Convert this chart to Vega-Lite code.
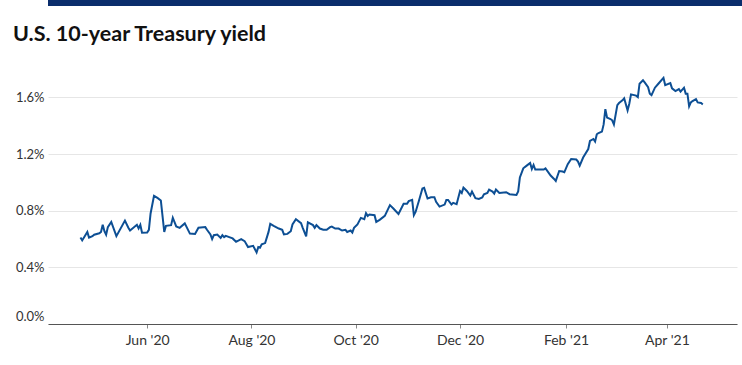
{
  "$schema": "https://vega.github.io/schema/vega-lite/v6.json",
  "padding": 0,
  "background": "white",
  "spacing": 18,
  "columns": 1,
  "align": "none",
  "config": {"view": {"stroke": null}, "font": "Lato"},
  "concat": [
    {
      "width": 742,
      "height": 6,
      "data": {"values": [{"k": 1}]},
      "mark": {"type": "rect", "color": "#0b2d6c"},
      "encoding": {}
    },
    {
      "width": 689,
      "height": 255,
      "title": {"text": "U.S. 10-year Treasury yield", "anchor": "start", "frame": "bounds", "dx": 13, "fontSize": 21.5, "font": "Lato", "fontWeight": "bold", "color": "#111111", "offset": 23.5},
      "data": {"values": [
        {"date": "2020-04-23", "yield": 0.61}, {"date": "2020-04-24", "yield": 0.59}, {"date": "2020-04-27", "yield": 0.65}, {"date": "2020-04-28", "yield": 0.61},
        {"date": "2020-04-30", "yield": 0.62}, {"date": "2020-05-01", "yield": 0.63}, {"date": "2020-05-04", "yield": 0.64}, {"date": "2020-05-05", "yield": 0.65},
        {"date": "2020-05-06", "yield": 0.70}, {"date": "2020-05-07", "yield": 0.655}, {"date": "2020-05-08", "yield": 0.63}, {"date": "2020-05-09", "yield": 0.684},
        {"date": "2020-05-11", "yield": 0.72}, {"date": "2020-05-14", "yield": 0.62}, {"date": "2020-05-19", "yield": 0.73}, {"date": "2020-05-21", "yield": 0.68},
        {"date": "2020-05-22", "yield": 0.66}, {"date": "2020-05-26", "yield": 0.70}, {"date": "2020-05-27", "yield": 0.675}, {"date": "2020-05-28", "yield": 0.70},
        {"date": "2020-05-29", "yield": 0.645}, {"date": "2020-06-01", "yield": 0.646}, {"date": "2020-06-02", "yield": 0.665}, {"date": "2020-06-03", "yield": 0.78},
        {"date": "2020-06-05", "yield": 0.905}, {"date": "2020-06-07", "yield": 0.89}, {"date": "2020-06-09", "yield": 0.872}, {"date": "2020-06-11", "yield": 0.65},
        {"date": "2020-06-12", "yield": 0.693}, {"date": "2020-06-15", "yield": 0.698}, {"date": "2020-06-16", "yield": 0.75}, {"date": "2020-06-18", "yield": 0.689},
        {"date": "2020-06-20", "yield": 0.679}, {"date": "2020-06-23", "yield": 0.71}, {"date": "2020-06-26", "yield": 0.638}, {"date": "2020-06-29", "yield": 0.636},
        {"date": "2020-07-01", "yield": 0.68}, {"date": "2020-07-05", "yield": 0.684}, {"date": "2020-07-06", "yield": 0.665}, {"date": "2020-07-08", "yield": 0.632},
        {"date": "2020-07-09", "yield": 0.60}, {"date": "2020-07-10", "yield": 0.627}, {"date": "2020-07-12", "yield": 0.632}, {"date": "2020-07-14", "yield": 0.608},
        {"date": "2020-07-15", "yield": 0.627}, {"date": "2020-07-16", "yield": 0.613}, {"date": "2020-07-17", "yield": 0.622}, {"date": "2020-07-19", "yield": 0.613},
        {"date": "2020-07-21", "yield": 0.604}, {"date": "2020-07-23", "yield": 0.58}, {"date": "2020-07-26", "yield": 0.599}, {"date": "2020-07-28", "yield": 0.585},
        {"date": "2020-07-30", "yield": 0.543}, {"date": "2020-08-02", "yield": 0.552}, {"date": "2020-08-04", "yield": 0.505}, {"date": "2020-08-05", "yield": 0.543},
        {"date": "2020-08-06", "yield": 0.538}, {"date": "2020-08-07", "yield": 0.562}, {"date": "2020-08-09", "yield": 0.571}, {"date": "2020-08-11", "yield": 0.65},
        {"date": "2020-08-12", "yield": 0.707}, {"date": "2020-08-14", "yield": 0.693}, {"date": "2020-08-17", "yield": 0.674}, {"date": "2020-08-19", "yield": 0.665},
        {"date": "2020-08-20", "yield": 0.632}, {"date": "2020-08-22", "yield": 0.636}, {"date": "2020-08-24", "yield": 0.655}, {"date": "2020-08-25", "yield": 0.703},
        {"date": "2020-08-27", "yield": 0.74}, {"date": "2020-08-30", "yield": 0.712}, {"date": "2020-08-31", "yield": 0.679}, {"date": "2020-09-02", "yield": 0.618},
        {"date": "2020-09-03", "yield": 0.717}, {"date": "2020-09-06", "yield": 0.698}, {"date": "2020-09-07", "yield": 0.679}, {"date": "2020-09-08", "yield": 0.698},
        {"date": "2020-09-10", "yield": 0.674}, {"date": "2020-09-12", "yield": 0.665}, {"date": "2020-09-14", "yield": 0.665}, {"date": "2020-09-16", "yield": 0.684},
        {"date": "2020-09-17", "yield": 0.688}, {"date": "2020-09-19", "yield": 0.674}, {"date": "2020-09-21", "yield": 0.674}, {"date": "2020-09-23", "yield": 0.66},
        {"date": "2020-09-25", "yield": 0.665}, {"date": "2020-09-26", "yield": 0.65}, {"date": "2020-09-28", "yield": 0.66}, {"date": "2020-09-29", "yield": 0.646},
        {"date": "2020-09-30", "yield": 0.679}, {"date": "2020-10-02", "yield": 0.703}, {"date": "2020-10-04", "yield": 0.749}, {"date": "2020-10-06", "yield": 0.74},
        {"date": "2020-10-07", "yield": 0.782}, {"date": "2020-10-08", "yield": 0.763}, {"date": "2020-10-09", "yield": 0.773}, {"date": "2020-10-12", "yield": 0.768},
        {"date": "2020-10-13", "yield": 0.721}, {"date": "2020-10-15", "yield": 0.735}, {"date": "2020-10-18", "yield": 0.763}, {"date": "2020-10-21", "yield": 0.839},
        {"date": "2020-10-23", "yield": 0.815}, {"date": "2020-10-26", "yield": 0.777}, {"date": "2020-10-29", "yield": 0.848}, {"date": "2020-10-31", "yield": 0.848},
        {"date": "2020-11-01", "yield": 0.867}, {"date": "2020-11-03", "yield": 0.876}, {"date": "2020-11-04", "yield": 0.768}, {"date": "2020-11-05", "yield": 0.791},
        {"date": "2020-11-07", "yield": 0.872}, {"date": "2020-11-09", "yield": 0.956}, {"date": "2020-11-10", "yield": 0.961}, {"date": "2020-11-12", "yield": 0.886},
        {"date": "2020-11-14", "yield": 0.895}, {"date": "2020-11-16", "yield": 0.895}, {"date": "2020-11-17", "yield": 0.862}, {"date": "2020-11-19", "yield": 0.829},
        {"date": "2020-11-22", "yield": 0.843}, {"date": "2020-11-23", "yield": 0.876}, {"date": "2020-11-24", "yield": 0.876}, {"date": "2020-11-26", "yield": 0.843},
        {"date": "2020-11-27", "yield": 0.855}, {"date": "2020-11-29", "yield": 0.846}, {"date": "2020-12-01", "yield": 0.939}, {"date": "2020-12-02", "yield": 0.925},
        {"date": "2020-12-03", "yield": 0.963}, {"date": "2020-12-05", "yield": 0.939}, {"date": "2020-12-07", "yield": 0.907}, {"date": "2020-12-08", "yield": 0.935},
        {"date": "2020-12-10", "yield": 0.888}, {"date": "2020-12-12", "yield": 0.883}, {"date": "2020-12-14", "yield": 0.893}, {"date": "2020-12-15", "yield": 0.916},
        {"date": "2020-12-17", "yield": 0.925}, {"date": "2020-12-18", "yield": 0.949}, {"date": "2020-12-20", "yield": 0.935}, {"date": "2020-12-21", "yield": 0.921},
        {"date": "2020-12-22", "yield": 0.949}, {"date": "2020-12-24", "yield": 0.925}, {"date": "2020-12-28", "yield": 0.93}, {"date": "2020-12-30", "yield": 0.916},
        {"date": "2021-01-03", "yield": 0.911}, {"date": "2021-01-04", "yield": 0.935}, {"date": "2021-01-05", "yield": 1.034}, {"date": "2021-01-07", "yield": 1.099},
        {"date": "2021-01-09", "yield": 1.118}, {"date": "2021-01-11", "yield": 1.137}, {"date": "2021-01-12", "yield": 1.094}, {"date": "2021-01-13", "yield": 1.123},
        {"date": "2021-01-14", "yield": 1.09}, {"date": "2021-01-19", "yield": 1.09}, {"date": "2021-01-20", "yield": 1.099}, {"date": "2021-01-23", "yield": 1.048},
        {"date": "2021-01-25", "yield": 1.024}, {"date": "2021-01-26", "yield": 1.01}, {"date": "2021-01-28", "yield": 1.08}, {"date": "2021-01-30", "yield": 1.076},
        {"date": "2021-01-31", "yield": 1.071}, {"date": "2021-02-02", "yield": 1.128}, {"date": "2021-02-04", "yield": 1.165}, {"date": "2021-02-07", "yield": 1.161},
        {"date": "2021-02-08", "yield": 1.147}, {"date": "2021-02-09", "yield": 1.118}, {"date": "2021-02-11", "yield": 1.175}, {"date": "2021-02-14", "yield": 1.235},
        {"date": "2021-02-15", "yield": 1.292}, {"date": "2021-02-17", "yield": 1.306}, {"date": "2021-02-18", "yield": 1.288}, {"date": "2021-02-19", "yield": 1.339},
        {"date": "2021-02-20", "yield": 1.348}, {"date": "2021-02-22", "yield": 1.358}, {"date": "2021-02-23", "yield": 1.409}, {"date": "2021-02-24", "yield": 1.517},
        {"date": "2021-02-25", "yield": 1.457}, {"date": "2021-02-27", "yield": 1.447}, {"date": "2021-02-28", "yield": 1.438}, {"date": "2021-03-01", "yield": 1.409},
        {"date": "2021-03-03", "yield": 1.545}, {"date": "2021-03-04", "yield": 1.56}, {"date": "2021-03-06", "yield": 1.579}, {"date": "2021-03-07", "yield": 1.593},
        {"date": "2021-03-09", "yield": 1.508}, {"date": "2021-03-10", "yield": 1.555}, {"date": "2021-03-11", "yield": 1.621}, {"date": "2021-03-14", "yield": 1.612},
        {"date": "2021-03-15", "yield": 1.602}, {"date": "2021-03-16", "yield": 1.696}, {"date": "2021-03-18", "yield": 1.72}, {"date": "2021-03-19", "yield": 1.705},
        {"date": "2021-03-21", "yield": 1.672}, {"date": "2021-03-22", "yield": 1.626}, {"date": "2021-03-23", "yield": 1.616}, {"date": "2021-03-25", "yield": 1.668},
        {"date": "2021-03-27", "yield": 1.696}, {"date": "2021-03-30", "yield": 1.738}, {"date": "2021-03-31", "yield": 1.686}, {"date": "2021-04-03", "yield": 1.70},
        {"date": "2021-04-04", "yield": 1.663}, {"date": "2021-04-06", "yield": 1.644}, {"date": "2021-04-08", "yield": 1.658}, {"date": "2021-04-09", "yield": 1.64},
        {"date": "2021-04-11", "yield": 1.668}, {"date": "2021-04-12", "yield": 1.626}, {"date": "2021-04-13", "yield": 1.626}, {"date": "2021-04-14", "yield": 1.536},
        {"date": "2021-04-15", "yield": 1.564}, {"date": "2021-04-16", "yield": 1.574}, {"date": "2021-04-18", "yield": 1.588}, {"date": "2021-04-19", "yield": 1.564},
        {"date": "2021-04-21", "yield": 1.56}, {"date": "2021-04-22", "yield": 1.55}
      ]},
      "mark": {"type": "line", "color": "#0d4f94", "strokeWidth": 2},
      "encoding": {
        "x": {
          "field": "date", "type": "temporal",
          "scale": {"domain": ["2020-04-04", "2021-05-12"]},
          "axis": {
            "title": null,
            "values": [
              {"year": 2020, "month": 6, "date": 1}, {"year": 2020, "month": 8, "date": 1},
              {"year": 2020, "month": 10, "date": 1}, {"year": 2020, "month": 12, "date": 1},
              {"year": 2021, "month": 2, "date": 1}, {"year": 2021, "month": 4, "date": 1}
            ],
            "format": "%b '%y",
            "grid": false,
            "domainColor": "#555555",
            "domainWidth": 1,
            "tickColor": "#888888",
            "tickSize": 4,
            "labelPadding": 5,
            "labelFont": "Lato",
            "labelFontSize": 14,
            "labelColor": "#333333"
          }
        },
        "y": {
          "field": "yield", "type": "quantitative",
          "scale": {"domain": [0, 1.8], "nice": false},
          "axis": {
            "title": null,
            "values": [0, 0.4, 0.8, 1.2, 1.6],
            "labelExpr": "format(datum.value, '.1f') + '%'",
            "domain": false,
            "ticks": false,
            "tickSize": 0,
            "labelPadding": 4,
            "labelOffset": {"condition": {"test": "datum.value === 0", "value": -8}, "value": 0},
            "minExtent": 48,
            "maxExtent": 48,
            "gridColor": "#e6e6e6",
            "gridWidth": 1,
            "labelFont": "Lato",
            "labelFontSize": 13,
            "labelColor": "#333333"
          }
        }
      }
    }
  ]
}
